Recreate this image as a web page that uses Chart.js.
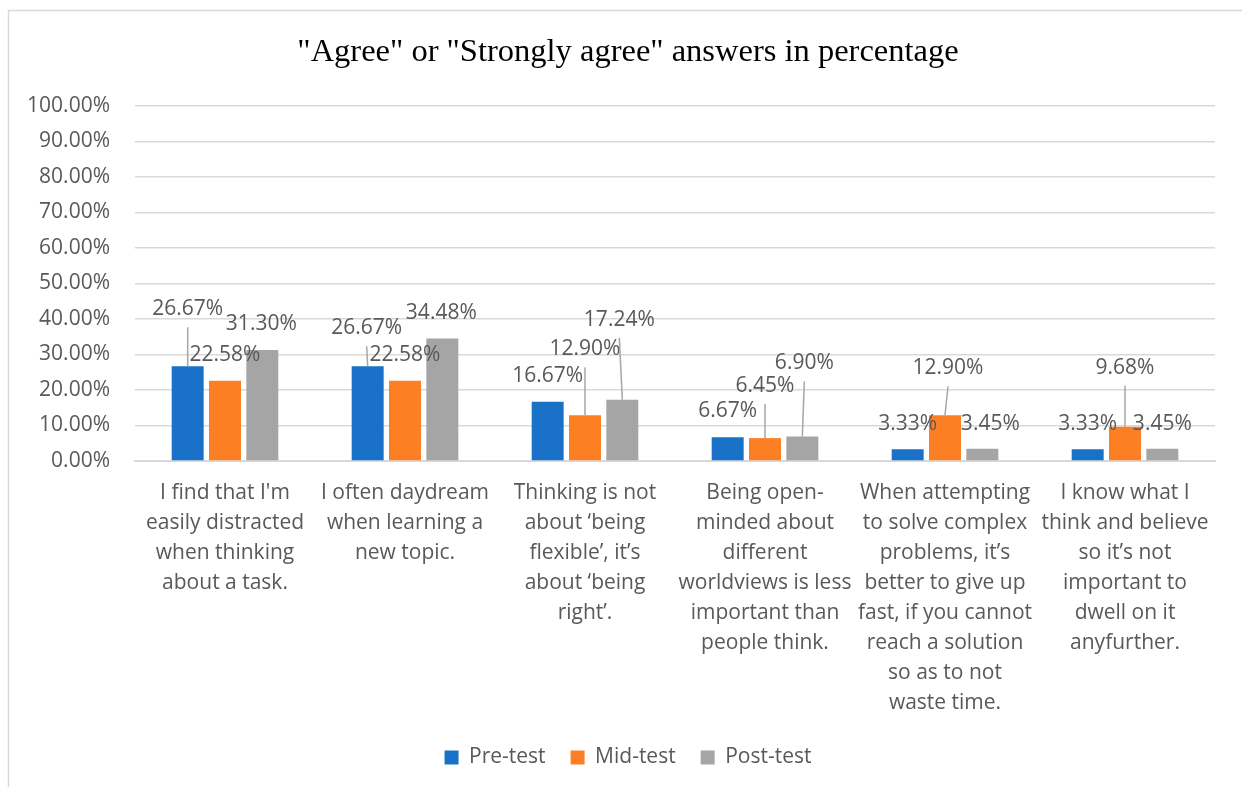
<!DOCTYPE html>
<html>
<head>
<meta charset="utf-8">
<script src="https://cdn.jsdelivr.net/npm/chart.js@4/dist/chart.umd.min.js"></script>
<style>
  html, body { margin: 0; padding: 0; background: #fff; }
  #wrap { width: 1242px; height: 787px; }
</style>
</head>
<body>
<div id="wrap"><canvas id="survey" width="1242" height="787"></canvas></div>
<script>
const categories = [
  ["I find that I'm", "easily distracted", "when thinking", "about a task."],
  ["I often daydream", "when learning a", "new topic."],
  ["Thinking is not", "about \u2018being", "flexible\u2019, it\u2019s", "about \u2018being", "right\u2019."],
  ["Being open-", "minded about", "different", "worldviews is less", "important than", "people think."],
  ["When attempting", "to solve complex", "problems, it\u2019s", "better to give up", "fast, if you cannot", "reach a solution", "so as to not", "waste time."],
  ["I know what I", "think and believe", "so it\u2019s not", "important to", "dwell on it", "anyfurther."]
];
const seriesNames = ["Pre-test", "Mid-test", "Post-test"];
const preTest = [26.67, 26.67, 16.67, 6.67, 3.33, 3.33];
const midTest = [22.58, 22.58, 12.90, 6.45, 12.90, 9.68];
const postTest = [31.30, 34.48, 17.24, 6.90, 3.45, 3.45];
const yMax = 100;
const yStep = 10;

const colors = ["#1a71c8", "#fd7f24", "#a5a5a5"];
const textGray = "#595959";
const font = "'Open Sans', 'Noto Sans', sans-serif";

// how far each value label sits above its bar (px) and sideways nudge;
// labels lifted well clear of the bar get a leader line back to it
const labelLift = [
  [57, 38, 26, 26, 25, 25],
  [26, 26, 66, 52, 47, 59],
  [26, 26, 80, 73, 25, 25]
];
const labelShift = [
  [0, -1, 0, 0, 0, 0],
  [0, 0, 0, 0, 3, 0],
  [-1, -1, -3, 2, 8, 0]
];

const valueLabels = {
  id: "valueLabels",
  afterDatasetsDraw(chart) {
    const ctx = chart.ctx;
    ctx.save();
    ctx.font = "21px " + font;
    ctx.textAlign = "center";
    ctx.textBaseline = "middle";
    chart.data.datasets.forEach((ds, di) => {
      chart.getDatasetMeta(di).data.forEach((bar, i) => {
        const lift = labelLift[di][i];
        const lx = bar.x + labelShift[di][i];
        const ly = bar.y - lift;
        if (lift > 30) {
          ctx.strokeStyle = "#a6a6a6";
          ctx.lineWidth = 1.5;
          ctx.beginPath();
          ctx.moveTo(lx, ly + 18);
          ctx.lineTo(bar.x, bar.y);
          ctx.stroke();
        }
        ctx.fillStyle = textGray;
        ctx.fillText(ds.data[i].toFixed(2) + "%", lx, ly);
      });
    });
    ctx.restore();
  }
};

const frame = {
  id: "frame",
  afterDraw(chart) {
    const ctx = chart.ctx;
    ctx.save();
    ctx.strokeStyle = "#d9d9d9";
    ctx.lineWidth = 1.5;
    ctx.beginPath();
    ctx.moveTo(8.5, chart.height + 5);
    ctx.lineTo(8.5, 10.5);
    ctx.lineTo(chart.width + 5, 10.5);
    ctx.stroke();
    ctx.restore();
  }
};

new Chart(document.getElementById("survey").getContext("2d"), {
  type: "bar",
  data: {
    labels: categories,
    datasets: [preTest, midTest, postTest].map((vals, k) => ({
      label: seriesNames[k],
      data: vals,
      yAxisID: "y",
      backgroundColor: colors[k],
      categoryPercentage: 0.622,
      barPercentage: 0.857
    }))
  },
  options: {
    responsive: false,
    animation: false,
    layout: { padding: { top: 0, left: 14, right: 0, bottom: 9 } },
    plugins: {
      tooltip: { enabled: false },
      title: {
        display: true,
        text: "\"Agree\" or \"Strongly agree\" answers in percentage",
        color: "#000",
        font: { family: "'Liberation Serif', 'Times New Roman', serif", size: 32.5, weight: "normal" },
        padding: { top: 33, bottom: 34 }
      },
      legend: {
        position: "bottom",
        labels: {
          color: textGray,
          font: { family: font, size: 21 },
          boxWidth: 14,
          boxHeight: 14,
          padding: 25
        }
      }
    },
    scales: {
      x: {
        afterFit(scale) { scale.height -= 13; },
        grid: { display: false, drawTicks: false },
        border: { display: true, color: "#d9d9d9", width: 2 },
        ticks: {
          color: textGray,
          font: { family: font, size: 21, lineHeight: "30px" },
          padding: 17,
          maxRotation: 0,
          autoSkip: false
        }
      },
      y: {
        min: 0,
        max: yMax,
        afterFit(scale) { scale.width = 121; },
        grid: { color: "#d9d9d9", lineWidth: 1.5, drawTicks: false },
        border: { display: false },
        ticks: {
          stepSize: yStep,
          color: textGray,
          font: { family: font, size: 21 },
          padding: 25,
          callback: v => v.toFixed(2) + "%"
        }
      },
      // empty margin on the right of the plot
      gutter: {
        type: "linear",
        position: "right",
        min: 0,
        max: yMax,
        afterFit(scale) { scale.width = 27; },
        grid: { display: false, drawTicks: false },
        border: { display: false },
        ticks: { display: false }
      }
    }
  },
  plugins: [valueLabels, frame]
});
</script>
</body>
</html>
